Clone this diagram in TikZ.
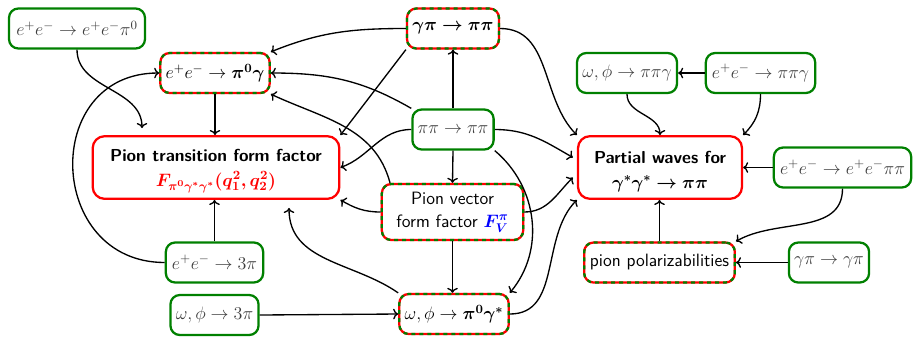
\RequirePackage{fix-cm}
\documentclass[tikz,border=0pt]{standalone}
\usepackage{amsmath,amssymb}
\usepackage{bm}
\usepackage{tikz}
\usetikzlibrary{arrows.meta,positioning,calc}
\definecolor{boxgreen}{HTML}{008000}
\definecolor{boxred}{HTML}{FF0000}
\definecolor{textgray}{HTML}{3C3C3C}
\definecolor{formblue}{HTML}{0000FF}
\tikzset{
  databox/.style={draw=boxgreen,fill=white,line width=1.7pt,rounded corners=7pt,
                  text=textgray,minimum height=30pt,inner xsep=4pt,
                  align=center,font=\fontsize{13.5}{16}\selectfont},
  goalbox/.style={draw=boxred,fill=white,line width=1.7pt,rounded corners=9pt,
                  minimum height=47pt,inner xsep=4pt,
                  align=center,font=\fontsize{13}{18.5}\selectfont\sffamily},
  mixbox/.style={draw=boxred,fill=white,line width=1.7pt,rounded corners=7pt,
                 postaction={draw=boxgreen,dash pattern=on 3pt off 3pt},
                 minimum height=30pt,inner xsep=4pt,
                 align=center,font=\fontsize{13.4}{17.5}\selectfont\sffamily},
  mathsize/.style={font=\fontsize{13.5}{16}\selectfont},
  flowarr/.style={->,line width=1pt}
}

\begin{document}
\begin{tikzpicture}[x=0.75pt,y=-0.75pt]
  \useasboundingbox (0,0) rectangle (913,337);
  % left column
  \node[databox,minimum width=102pt] (eeepiz) at (77,28.5) {$e^+e^-\to e^+e^-\pi^0$};
  \node[mixbox,mathsize,minimum width=79pt] (eepizg) at (215,73) {$e^+e^-\to\bm{\pi^0\gamma}$};
  \node[goalbox,minimum width=185pt] (tff) at (216,167.5)
    {\rule{0pt}{15pt}\textbf{Pion transition form factor}\\
     \textcolor{boxred}{\fontsize{13.5}{16}\selectfont$\bm{F_{\pi^0\gamma^*\gamma^*}(q_1^2,q_2^2)}$}};
  \node[databox,minimum width=73pt] (ee3pi) at (214.5,262.5) {$e^+e^-\to3\pi$};
  \node[databox,minimum width=66pt] (omph3pi) at (214.5,315) {$\omega,\phi\to3\pi$};
  % middle column
  \node[mixbox,mathsize,minimum width=60pt] (gpipp) at (453,28.5) {$\bm{\gamma\pi\to\pi\pi}$};
  \node[databox,minimum width=60pt] (pppp) at (453,129.5) {$\pi\pi\to\pi\pi$};
  \node[mixbox,minimum width=106pt,minimum height=42pt] (vff) at (452.5,212)
    {Pion vector\\form factor \textcolor{formblue}{\fontsize{13.5}{16}\selectfont$\bm{F_V^\pi}$}};
  \node[mixbox,mathsize,minimum width=80pt] (omphpizg) at (454,314) {$\omega,\phi\to\bm{\pi^0\gamma^*}$};
  % right column
  \node[databox,minimum width=75pt] (ompipig) at (627,73) {$\omega,\phi\to\pi\pi\gamma$};
  \node[databox,minimum width=82pt] (eepipig) at (760.5,73) {$e^+e^-\to\pi\pi\gamma$};
  \node[goalbox,minimum width=123pt] (pw) at (660,167.5)
    {\rule{0pt}{15pt}\textbf{Partial waves for}\\{\fontsize{13.5}{16}\selectfont$\bm{\gamma^*\gamma^*\to\pi\pi}$}};
  \node[databox,minimum width=103pt] (eeeepipi) at (842.5,167.5) {$e^+e^-\to e^+e^-\pi\pi$};
  \node[mixbox,minimum width=113pt] (polar) at (659.5,262.5) {pion polarizabilities};
  \node[databox,minimum width=60pt] (gpigpi) at (829,262.5) {$\gamma\pi\to\gamma\pi$};

  % into the transition form factor
  \draw[flowarr] (eeepiz.south) to[out=-90,in=90] ([shift={(-74,-7)}]tff.north);
  \draw[flowarr] (eepizg.south) -- (eepizg.south |- tff.north);
  \draw[flowarr] (gpipp.west) to[out=180,in=22] (eepizg.north east);
  \draw[flowarr] (gpipp.south west) -- (tff.north east);
  \draw[flowarr] (pppp.north west) to[out=150,in=0] (eepizg.east);
  \draw[flowarr] ([xshift=7pt]vff.north west) to[out=105,in=-25] (eepizg.south east);
  \draw[flowarr] (pppp.west) to[out=180,in=20] (tff.east);
  \draw[flowarr] (vff.west) to[out=180,in=-30] (tff.south east);
  \draw[flowarr] (omphpizg.north west) to[out=145,in=-90] ([shift={(73,8)}]tff.south);
  \draw[flowarr] (ee3pi.north) -- (ee3pi.north |- tff.south);
  \draw[flowarr] (ee3pi.west) to[out=180,in=180,looseness=1.6] (eepizg.west);
  % middle column
  \draw[flowarr] (omph3pi.east) -- (omphpizg.west);
  \draw[flowarr] (pppp.north) -- (gpipp.south);
  \draw[flowarr] (pppp.south) -- (vff.north);
  \draw[flowarr] (vff.south) -- (vff.south |- omphpizg.north);
  \draw[flowarr] (pppp.south east) to[out=-40,in=50] (omphpizg.north east);
  % into the partial waves
  \draw[flowarr] (pppp.east) to[out=0,in=150] ([shift={(-4,-10)}]pw.west);
  \draw[flowarr] (gpipp.east) to[out=0,in=135] (pw.north west);
  \draw[flowarr] (vff.east) to[out=0,in=-135] ([shift={(-4,10)}]pw.west);
  \draw[flowarr] (omphpizg.east) to[out=0,in=-135] (pw.south west);
  \draw[flowarr] (ompipig.south) to[out=-90,in=90] (pw.north);
  \draw[flowarr] (eepipig.south) to[out=-90,in=45] (pw.north east);
  \draw[flowarr] (eepipig.west) -- (ompipig.east);
  \draw[flowarr] (eeeepipi.west) -- (pw.east);
  \draw[flowarr] (eeeepipi.south) to[out=-90,in=30] (polar.north east);
  \draw[flowarr] (polar.north) -- (polar.north |- pw.south);
  \draw[flowarr] (gpigpi.west) -- (polar.east);
\end{tikzpicture}
\end{document}
